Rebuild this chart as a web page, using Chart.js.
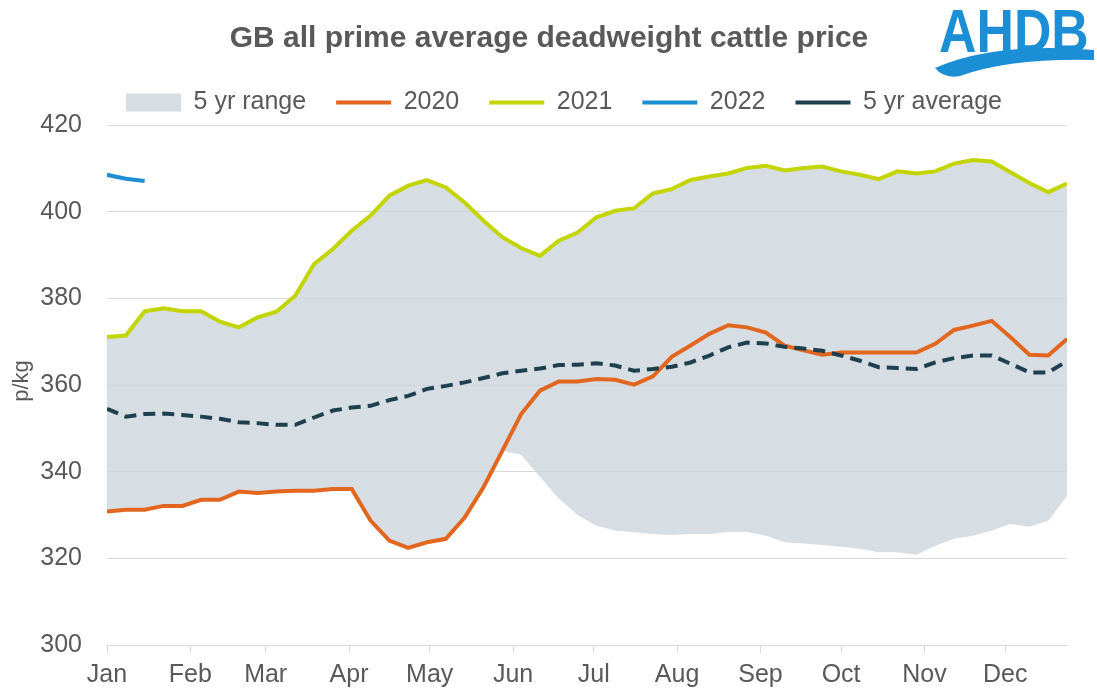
<!DOCTYPE html>
<html>
<head>
<meta charset="utf-8">
<title>GB all prime average deadweight cattle price</title>
<script src="https://cdn.jsdelivr.net/npm/chart.js@4.4.1/dist/chart.umd.min.js"></script>
<style>
    html, body { margin: 0; padding: 0; background: #fff; }
</style>
</head>
<body>
<canvas id="cattleChart" width="1097" height="693"></canvas>
<script>
const chartTitle = 'GB all prime average deadweight cattle price';
const yTitle = 'p/kg';

// week start, as day of the year
const weekDays = [0, 7, 14, 21, 28, 35, 42, 49, 56, 63, 70, 77, 84, 91, 98, 105, 112, 119, 126, 133,
    140, 147, 154, 161, 168, 175, 182, 189, 196, 203, 210, 217, 224, 231, 238, 245, 252, 259, 266, 273,
    280, 287, 294, 301, 308, 315, 322, 329, 336, 343, 350, 357];

const monthDays = [0, 31, 59, 90, 120, 151, 181, 212, 243, 273, 304, 334];
const monthLabels = ['Jan', 'Feb', 'Mar', 'Apr', 'May', 'Jun', 'Jul', 'Aug', 'Sep', 'Oct', 'Nov', 'Dec'];

const yTicks = [300, 320, 340, 360, 380, 400, 420];

const price2020 = [330.8, 331.2, 331.2, 332.1, 332.1, 333.5, 333.5, 335.4, 335.1, 335.4,
    335.6, 335.6, 336.0, 336.0, 328.7, 324.1, 322.4, 323.7, 324.5, 329.4,
    336.4, 344.8, 353.3, 358.7, 360.8, 360.8, 361.4, 361.2, 360.1, 362.0,
    366.5, 369.1, 371.8, 373.8, 373.3, 372.1, 369.1, 368.0, 367.0, 367.5,
    367.5, 367.5, 367.5, 367.5, 369.5, 372.7, 373.7, 374.8, 371.0, 367.0,
    366.8, 370.6];

const price2021 = [371.1, 371.4, 377.0, 377.7, 377.0, 377.0, 374.6, 373.3, 375.6, 376.9,
    380.6, 387.9, 391.4, 395.6, 399.1, 403.7, 406.0, 407.3, 405.6, 402.1,
    397.9, 394.1, 391.6, 389.8, 393.3, 395.2, 398.7, 400.2, 400.8, 404.2,
    405.2, 407.3, 408.1, 408.8, 410.1, 410.6, 409.5, 410.1, 410.4, 409.3,
    408.5, 407.5, 409.3, 408.8, 409.3, 411.1, 411.9, 411.6, 409.1, 406.6,
    404.5, 406.5];

const price2022 = [408.5, 407.6, 407.1];

const avg5yr = [354.5, 352.7, 353.3, 353.4, 353.1, 352.7, 352.2, 351.4, 351.2, 350.8,
    350.8, 352.5, 354.1, 354.8, 355.2, 356.5, 357.5, 359.1, 359.8, 360.6,
    361.6, 362.7, 363.3, 363.8, 364.6, 364.7, 365.0, 364.5, 363.3, 363.7,
    364.2, 365.2, 366.8, 368.7, 369.8, 369.6, 368.8, 368.4, 367.9, 366.8,
    365.6, 364.1, 363.9, 363.7, 365.2, 366.2, 366.8, 366.8, 364.9, 362.9,
    362.9, 365.5];

const rangeHigh = [371.1, 371.4, 377.0, 377.7, 377.0, 377.0, 374.6, 373.3, 375.6, 376.9,
    380.6, 387.9, 391.4, 395.6, 399.1, 403.7, 406.0, 407.3, 405.6, 402.1,
    397.9, 394.1, 391.6, 389.8, 393.3, 395.2, 398.7, 400.2, 400.8, 404.2,
    405.2, 407.3, 408.1, 408.8, 410.1, 410.6, 409.5, 410.1, 410.4, 409.3,
    408.5, 407.5, 409.3, 408.8, 409.3, 411.1, 411.9, 411.6, 409.1, 406.6,
    404.5, 406.5];

const rangeLow = [330.8, 331.2, 331.2, 332.1, 332.1, 333.5, 333.5, 335.4, 335.1, 335.4,
    335.6, 335.6, 336.0, 336.0, 328.7, 324.1, 322.4, 323.7, 324.5, 329.4,
    336.4, 344.8, 343.9, 338.8, 333.8, 330.0, 327.5, 326.4, 326.0, 325.6,
    325.4, 325.6, 325.6, 326.1, 326.1, 325.2, 323.7, 323.4, 323.1, 322.7,
    322.2, 321.4, 321.4, 320.8, 322.9, 324.5, 325.2, 326.4, 327.9, 327.3,
    328.7, 334.3];

const textColour = '#595959';
const gridColour = '#d9d9d9';
const fontFamily = '"Liberation Sans", Arial, sans-serif';

// title, axis title and logo
const decorations = {
    id: 'decorations',
    afterLayout(chart) {
        // legend in the original sits a bit right of centre
        chart.legend.left += 29;
    },
    afterDraw(chart) {
        const ctx = chart.ctx;
        ctx.save();
        ctx.fillStyle = textColour;
        ctx.textAlign = 'center';
        ctx.textBaseline = 'middle';
        ctx.font = 'bold 30px ' + fontFamily;
        ctx.fillText(chartTitle, 549, 39);

        ctx.save();
        ctx.translate(22, 381);
        ctx.rotate(-Math.PI / 2);
        ctx.font = '22px ' + fontFamily;
        ctx.fillText(yTitle, 0, 0);
        ctx.restore();

        ctx.fillStyle = '#1b8ed6';
        ctx.textAlign = 'left';
        ctx.textBaseline = 'alphabetic';
        ctx.save();
        ctx.translate(939, 52);
        ctx.scale(0.85, 1);
        ctx.font = 'bold 61px ' + fontFamily;
        ctx.fillText('AHDB', 0, 0);
        ctx.restore();

        ctx.beginPath();
        ctx.moveTo(935, 68);
        ctx.quadraticCurveTo(995, 42, 1094, 50);
        ctx.lineTo(1094, 60);
        ctx.quadraticCurveTo(1010, 58, 960, 76);
        ctx.quadraticCurveTo(944, 79, 935, 68);
        ctx.fill();
        ctx.restore();
    }
};

function lineSet(label, data, colour, order, dash) {
    return {
        label: label,
        data: data,
        borderColor: colour,
        backgroundColor: colour,
        borderWidth: 4,
        borderDash: dash || [],
        pointRadius: 0,
        pointStyle: 'line',
        tension: 0,
        fill: false,
        order: order
    };
}

const ctx = document.getElementById('cattleChart').getContext('2d');
const cattleChart = new Chart(ctx, {
    type: 'line',
    data: {
        labels: weekDays,
        datasets: [
            {
                label: '5 yr range',
                data: rangeHigh,
                borderWidth: 0,
                borderColor: 'rgba(0,0,0,0)',
                backgroundColor: 'rgba(204, 214, 221, 0.8)',
                pointRadius: 0,
                pointStyle: 'rect',
                fill: '+1',
                order: 10
            },
            {
                label: 'range low',
                data: rangeLow,
                borderWidth: 0,
                borderColor: 'rgba(0,0,0,0)',
                pointRadius: 0,
                fill: false,
                order: 11
            },
            lineSet('2020', price2020, '#e2661e', 4),
            lineSet('2021', price2021, '#c3d500', 3),
            lineSet('2022', price2022, '#1b8fd2', 2),
            lineSet('5 yr average', avg5yr, '#1e3f4e', 1, [12, 7])
        ]
    },
    options: {
        responsive: false,
        animation: false,
        layout: {
            padding: { top: 60, left: 32, right: 30, bottom: 3 }
        },
        plugins: {
            title: { display: false },
            tooltip: { enabled: false },
            legend: {
                position: 'top',
                align: 'center',
                labels: {
                    usePointStyle: true,
                    pointStyleWidth: 55,
                    boxHeight: 18,
                    padding: 30,
                    color: textColour,
                    font: { family: fontFamily, size: 25 },
                    filter: (item) => item.datasetIndex !== 1,
                    sort: (a, b) => a.datasetIndex - b.datasetIndex
                }
            }
        },
        scales: {
            x: {
                type: 'linear',
                min: weekDays[0],
                max: weekDays[weekDays.length - 1],
                afterBuildTicks: (scale) => {
                    scale.ticks = monthDays.map(d => ({ value: d }));
                },
                afterFit: (scale) => {
                    scale.height = 45;
                },
                ticks: {
                    autoSkip: false,
                    maxRotation: 0,
                    padding: 7,
                    color: textColour,
                    font: { family: fontFamily, size: 25 },
                    callback: (value, index) => monthLabels[index]
                },
                grid: {
                    display: true,
                    drawOnChartArea: false,
                    drawTicks: true,
                    tickLength: 8,
                    color: gridColour
                },
                border: { display: true, color: gridColour }
            },
            y: {
                min: yTicks[0],
                max: yTicks[yTicks.length - 1],
                afterBuildTicks: (scale) => {
                    scale.ticks = yTicks.map(v => ({ value: v }));
                },
                afterFit: (scale) => {
                    scale.width = 75;
                },
                ticks: {
                    padding: 25,
                    color: textColour,
                    font: { family: fontFamily, size: 25 }
                },
                grid: {
                    color: gridColour,
                    drawTicks: false
                },
                border: { display: false }
            }
        }
    },
    plugins: [decorations]
});
</script>
</body>
</html>
